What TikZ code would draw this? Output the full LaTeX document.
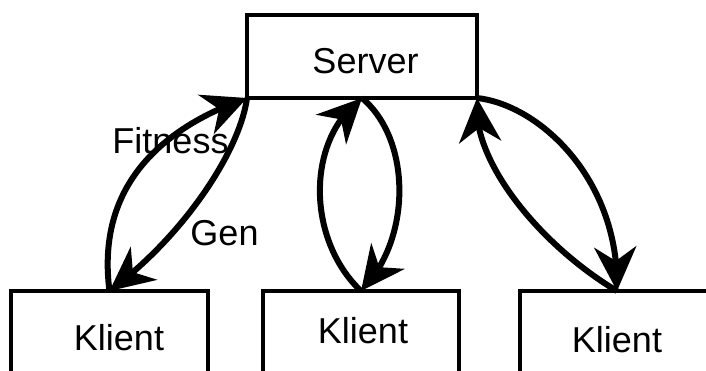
\documentclass[tikz,border=0pt]{standalone}
\usepackage{fontspec}
\setmainfont{Liberation Sans}
\usetikzlibrary{arrows.meta,bending}
\begin{document}
\begin{tikzpicture}[x=1pt,y=-1pt,
  box/.style={draw, line width=3.5pt, inner sep=0pt, outer sep=0pt, minimum height=89pt},
  lbl/.style={font=\fontsize{36}{40}\selectfont, inner sep=0pt, anchor=base},
  link/.style={line width=6pt, -{Stealth[length=44pt,width=42pt,inset=14pt]}},
]
\useasboundingbox (0,0) rectangle (706,370);
\clip (0,0) rectangle (706,370);

% boxes (the client boxes run past the lower and right edges)
\node[box, minimum width=230pt, minimum height=83pt] (server) at (362,56.5) {};
\node[box, minimum width=197pt] (klientA) at (109.5,335.5) {};
\node[box, minimum width=196pt] (klientB) at (361,335.5) {};
\node[box, minimum width=200pt] (klientC) at (620,335.5) {};

% texts
\node[lbl] (serverText) at (365.5,73) {Server};
\node[lbl] (klientAText) at (119,350) {Klient};
\node[lbl] (klientBText) at (363,343) {Klient};
\node[lbl] (klientCText) at (617,352) {Klient};
\node[lbl] (fitnessText) at (170.5,153) {Fitness};
\node[lbl] (genText) at (224.5,245) {Gen};

% left client <-> server
\draw[link] (klientA.north) .. controls (95,180) and (170,125) .. (server.south west);
\draw[link] (server.south west) .. controls (240,150) and (185,235) .. (klientA.north);

% middle client <-> server
\draw[link] (klientB.north) .. controls (307,240) and (305,140) .. (server.south);
\draw[link] (server.south) .. controls (412,140) and (412,240) .. (klientB.north);

% right client <-> server
\draw[link] ([xshift=-3pt]klientC.north) .. controls (540,245) and (470,160) .. (server.south east);
\draw[link] (server.south east) .. controls (540,105) and (620,180) .. ([xshift=-3pt]klientC.north);
\end{tikzpicture}
\end{document}
